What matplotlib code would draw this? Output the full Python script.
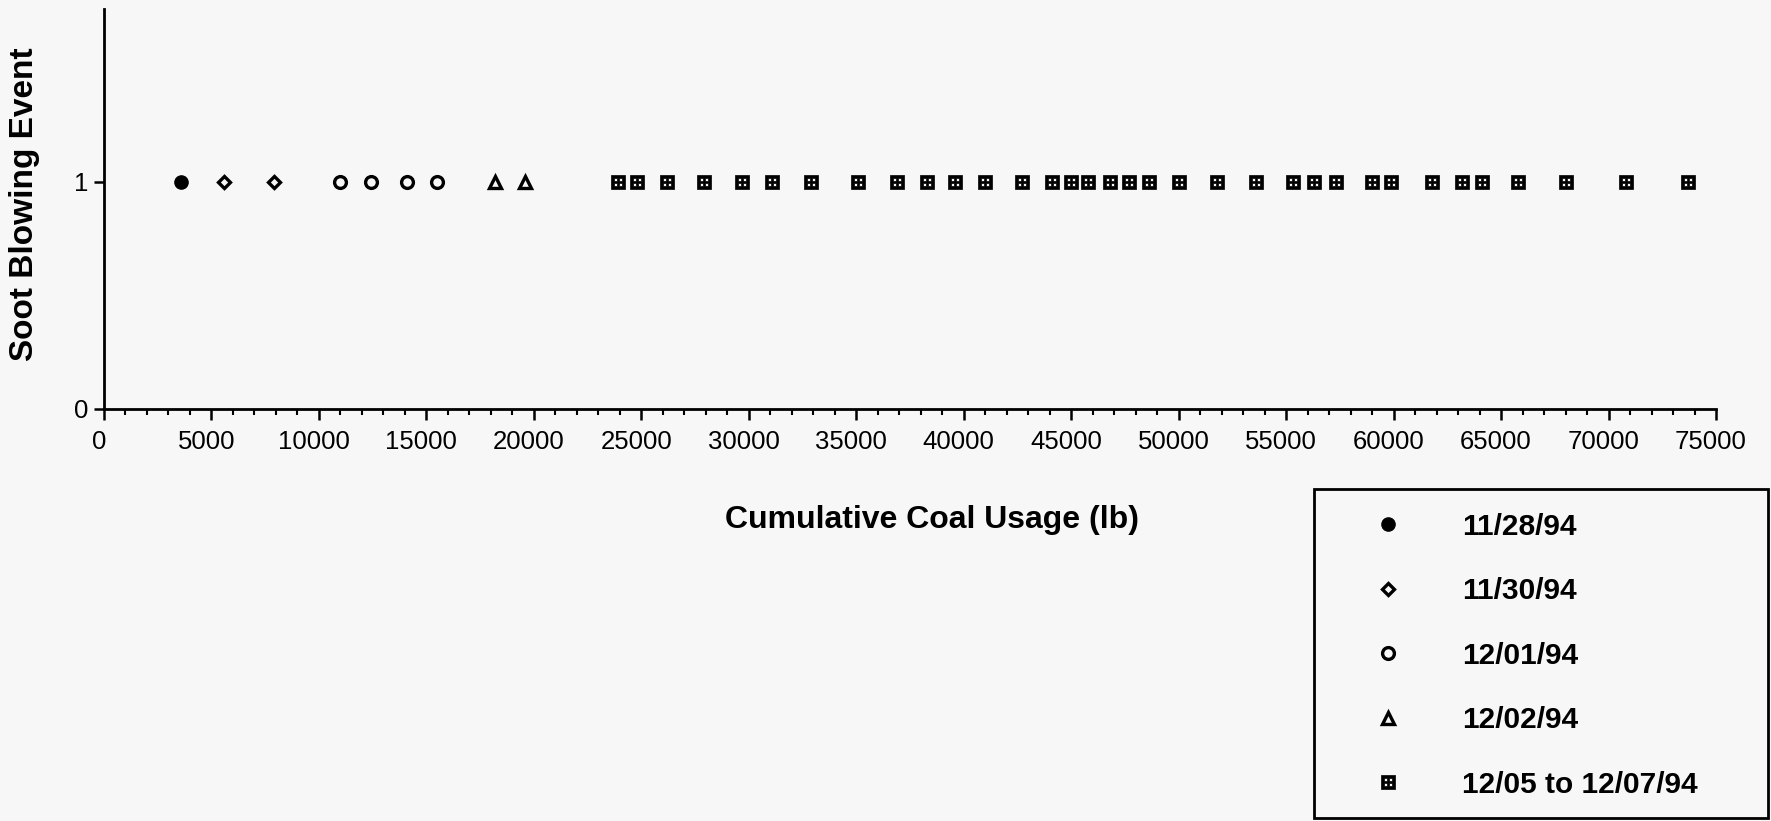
import matplotlib
matplotlib.use('Agg')
import matplotlib.pyplot as plt
import matplotlib.transforms as mtrans
from matplotlib.path import Path
from matplotlib.patches import Rectangle

# cumulative coal usage (lb) at each soot blowing event
nov28 = [3600]
nov30 = [5600, 7900]
dec01 = [11000, 12400, 14100, 15500]
dec02 = [18200, 19600]
dec05_07 = [23900, 24800, 26200, 27900, 29700, 31100, 32900, 35100, 36900,
            38300, 39600, 41000, 42700, 44100, 45000, 45800, 46800, 47700,
            48600, 50000, 51800, 53600, 55300, 56300, 57300, 59000, 59900,
            61800, 63200, 64100, 65800, 68000, 70800, 73700]
labels = ['11/28/94', '11/30/94', '12/01/94', '12/02/94', '12/05 to 12/07/94']

BG = '#f7f7f7'
W, H = 1771, 821


def box_marker():
    # black square with 4 white "windows"
    def sq(x0, y0, x1, y1, cw=True):
        pts = [(x0, y0), (x1, y0), (x1, y1), (x0, y1)]
        if cw:
            pts = pts[::-1]
        return pts + [(0, 0)]
    verts = sq(-1, -1, 1, 1, cw=False)
    codes = [Path.MOVETO, Path.LINETO, Path.LINETO, Path.LINETO, Path.CLOSEPOLY]
    allc = list(codes)
    for cx in (-0.32, 0.32):
        for cy in (-0.32, 0.32):
            verts += sq(cx - 0.17, cy - 0.17, cx + 0.17, cy + 0.17)
            allc += codes
    return Path(verts, allc)


plt.rcParams['font.family'] = ['Liberation Sans', 'DejaVu Sans']

fig = plt.figure(figsize=(W / 100, H / 100), dpi=100, facecolor=BG)
ax = fig.add_axes([104 / W, 1 - 409 / H, (1716 - 104) / W, (409 - 9) / H])
ax.set_facecolor(BG)

series = [
    (nov28, dict(marker='o', ms=9.5, mfc='black', mec='black')),
    (nov30, dict(marker='D', ms=6.5, mfc=BG, mec='black', mew=2.4)),
    (dec01, dict(marker='o', ms=8.5, mfc=BG, mec='black', mew=2.4)),
    (dec02, dict(marker='^', ms=9, mfc=BG, mec='black', mew=2.4)),
    (dec05_07, dict(marker=box_marker(), ms=10.5, mfc='black', mec='black', mew=0.5)),
]
handles = []
for (xs, st), lab in zip(series, labels):
    h, = ax.plot(xs, [1] * len(xs), linestyle='none', label=lab, **st)
    handles.append(h)

ax.set_xlim(0, 75000)
ax.set_ylim(0, 1.76)
ax.set_xticks(range(0, 75001, 5000))
ax.set_xticks(range(0, 75001, 1000), minor=True)
ax.set_yticks([0, 1])
for s in ['top', 'right']:
    ax.spines[s].set_visible(False)
for s in ['left', 'bottom']:
    ax.spines[s].set_linewidth(2)
ax.tick_params(axis='x', which='major', length=8, width=1.8, labelsize=18.5, pad=7)
ax.tick_params(axis='x', which='minor', length=4, width=1.5)
ax.tick_params(axis='y', which='major', length=7, width=1.8, labelsize=18.5, pad=4)
shift = mtrans.ScaledTranslation(-5 / 100, 0, fig.dpi_scale_trans)
for lab in ax.get_xticklabels():
    lab.set_transform(lab.get_transform() + shift)

fig.text(932 / W, 1 - 520 / H, 'Cumulative Coal Usage (lb)', fontsize=23,
         fontweight='bold', ha='center', va='center')
fig.text(25 / W, 1 - 204 / H, 'Soot Blowing Event', fontsize=24,
         fontweight='bold', ha='center', va='center', rotation=90)

leg = ax.legend(handles=handles, loc='upper left',
                bbox_to_anchor=(1307 / W, 1 - 818 / H, (1769 - 1307) / W, (818 - 489) / H),
                bbox_transform=fig.transFigure, mode='expand', borderaxespad=0,
                prop={'size': 21.5, 'weight': 'bold'}, frameon=False,
                borderpad=0.8, handlelength=3.8, handletextpad=0.6, labelspacing=1.22,
                numpoints=1)
fig.patches.append(Rectangle((1314 / W, 1 - 818 / H), (1768 - 1314) / W, (818 - 489) / H,
                             transform=fig.transFigure, fill=False,
                             edgecolor='black', linewidth=2))

fig.savefig('out.png', dpi=100, facecolor=BG)
